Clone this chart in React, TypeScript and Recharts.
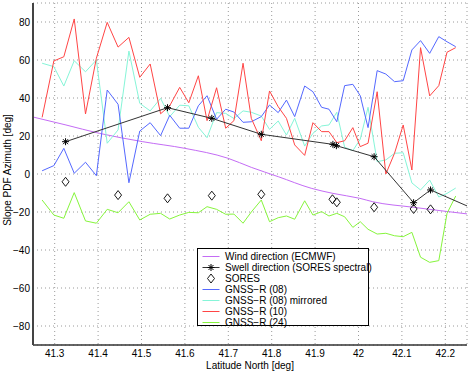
import React from "react";
import { ComposedChart, Line, Scatter, XAxis, YAxis, CartesianGrid } from "recharts";

// GNSS-R along-track latitudes (shared sampling)
const gnssLat = [
  41.271, 41.298, 41.321, 41.345, 41.371, 41.396, 41.421, 41.446, 41.471, 41.496,
  41.520, 41.544, 41.565, 41.588, 41.609, 41.631, 41.651, 41.673, 41.694, 41.713,
  41.734, 41.753, 41.776, 41.795, 41.815, 41.834, 41.853, 41.876, 41.895, 41.915,
  41.932, 41.950, 41.968, 41.987, 42.004, 42.022, 42.043, 42.063, 42.083, 42.103,
  42.123, 42.143, 42.164, 42.185, 42.204, 42.224,
];
const gnss08 = [
  1.7, 4.4, 13.5, 0.4, 6.2, -0.9, 44.2, 36.7, -4.6, 22.6,
  27.0, 20.2, 30.9, 24.1, 24.1, 35.9, 41.2, 28.8, 34.1, 32.6,
  27.2, 27.5, 30.2, 36.3, 32.3, 38.9, 30.2, 46.3, 43.3, 35.1,
  34.1, 27.5, 46.5, 47.2, 41.2, 24.4, 54.4, 52.6, 48.6, 49.1,
  65.3, 70.2, 63.5, 72.3, 69.6, 67.0,
];
const gnss08Mirrored = [
  58.3, 56.5, 46.3, 59.6, 53.8, 60.0, 16.2, 23.2, 64.7, 37.2,
  33.2, 39.8, 30.2, 36.2, 35.9, 24.6, 19.1, 32.3, 31.9, 29.2,
  33.2, 32.5, 30.5, 23.5, 27.9, 20.5, 29.3, 14.7, 21.4, 25.3,
  25.8, 32.5, 14.1, 12.3, 18.3, 35.1, 6.5, 7.4, 10.9, 11.2,
  -4.7, -8.4, -3.2, -12.1, -10.2, -7.4,
];
const gnss10 = [
  29.8, 59.5, 61.7, 81.6, 31.6, 60.9, 79.8, 66.8, 71.9, 50.9,
  57.9, 31.7, 35.9, 45.6, 37.5, 51.7, 28.1, 45.4, 24.1, 28.1,
  58.3, 29.3, 17.5, 43.7, 35.4, 29.3, 15.3, 9.8, 27.0, 22.3,
  22.3, 16.5, 17.5, 24.4, 14.4, 16.2, 43.3, 0, 10.9, 25.8,
  2.1, 66.5, 41.1, 46.5, 64.1, 66.5,
];
const gnss24 = [
  -13.7, -21.6, -23.3, -9.8, -24.7, -25.9, -18.6, -20.4, -14.6, -24.2,
  -21.2, -20.7, -23.7, -21.6, -20.2, -20.4, -17.2, -18.6, -21.2, -21.1,
  -25.9, -20.0, -13.7, -25.1, -23.0, -22.1, -23.8, -14.1, -21.6, -19.8,
  -22.1, -20.7, -22.5, -28.1, -25.1, -29.1, -31.6, -31.2, -32.5, -33.0,
  -30.7, -43.8, -46.5, -45.6, -20.7, -11.6,
];

// Wind direction (ECMWF)
const windLat = [41.25, 41.326, 41.403, 41.503, 41.6, 41.699, 41.753, 41.815, 41.891, 41.941, 42.003, 42.033, 42.126, 42.25];
const windVal = [30.0, 25.8, 21.4, 17.0, 13.5, 8.3, 3.5, -1.4, -7.5, -10.2, -12.8, -14.6, -17.5, -21.0];

// Swell direction (SORES spectral)
const swellLat = [41.325, 41.560, 41.662, 41.776, 41.941, 41.949, 42.036, 42.127, 42.166, 42.25];
const swellVal = [17.0, 34.9, 29.3, 20.9, 15.6, 14.9, 9.1, -15.1, -8.4, -16.8];

// SORES
const soresLat = [41.325, 41.446, 41.560, 41.662, 41.776, 41.940, 41.950, 42.036, 42.127, 42.166];
const soresVal = [-4.1, -11.1, -12.8, -11.4, -10.7, -13.3, -14.9, -17.5, -18.4, -18.6];

const xTicks = [41.3, 41.4, 41.5, 41.6, 41.7, 41.8, 41.9, 42, 42.1, 42.2];
const yTicks = [-80, -60, -40, -20, 0, 20, 40, 60, 80];

const zip = (xs: number[], ys: number[]) => xs.map((x, i) => ({ x, y: ys[i] }));

const C_WIND = "#c46cf5";
const C_SWELL = "#333333";
const C_B08 = "#5468ff";
const C_C08 = "#86f5d8";
const C_R10 = "#ff4545";
const C_G24 = "#86f53c";

const FONT = "'Liberation Sans', Arial, Helvetica, sans-serif";

const Asterisk = ({ cx, cy, r = 3.5 }: { cx: number; cy: number; r?: number }) => {
  const d = r * 0.707;
  return (
    <g stroke="#000" strokeWidth={1}>
      <line x1={cx - r} y1={cy} x2={cx + r} y2={cy} />
      <line x1={cx} y1={cy - r} x2={cx} y2={cy + r} />
      <line x1={cx - d} y1={cy - d} x2={cx + d} y2={cy + d} />
      <line x1={cx - d} y1={cy + d} x2={cx + d} y2={cy - d} />
    </g>
  );
};

const Diamond = ({ cx, cy }: { cx: number; cy: number }) => (
  <path
    d={`M${cx},${cy - 4.5} L${cx + 3.5},${cy} L${cx},${cy + 4.5} L${cx - 3.5},${cy} Z`}
    fill="none"
    stroke="#000"
    strokeWidth={0.9}
  />
);

const legendItems = [
  { label: "Wind direction (ECMWF)", kind: "line", color: C_WIND },
  { label: "Swell direction (SORES spectral)", kind: "star", color: C_SWELL },
  { label: "SORES", kind: "diamond", color: "#000" },
  { label: "GNSS\u2212R (08)", kind: "line", color: C_B08 },
  { label: "GNSS\u2212R (08) mirrored", kind: "line", color: C_C08 },
  { label: "GNSS\u2212R (10)", kind: "line", color: C_R10 },
  { label: "GNSS\u2212R (24)", kind: "line", color: C_G24 },
];

export default function App() {
  const swellLast = swellLat.length - 1;
  return (
    <div style={{ position: "absolute", left: 0, top: 0, width: 474, height: 371, background: "#fff" }}>
      <ComposedChart width={474} height={371} margin={{ top: 3, right: 7, left: 0, bottom: 0 }}>
        <CartesianGrid stroke="#9a9a9a" strokeDasharray="1 3" vertical horizontal />
        <XAxis
          dataKey="x"
          type="number"
          domain={[41.25, 42.25]}
          ticks={xTicks}
          allowDataOverflow
          height={26}
          tickSize={0}
          tickMargin={5}
          stroke="#333"
          strokeWidth={1.5}
          tick={{ fill: "#000", fontSize: 10, fontFamily: FONT }}
          tickFormatter={(v: number) => String(Math.round(v * 10) / 10)}
          label={{
            content: () => (
              <text x={250} y={369} textAnchor="middle" fontSize={10} fontFamily={FONT} fill="#000">
                Latitude North [deg]
              </text>
            ),
          }}
        />
        <YAxis
          type="number"
          domain={[-90, 90]}
          ticks={yTicks}
          allowDataOverflow
          width={33}
          tickSize={0}
          tickMargin={3}
          stroke="#444"
          strokeWidth={2}
          tick={{ fill: "#000", fontSize: 10, fontFamily: FONT }}
          tickFormatter={(v: number) => (v < 0 ? "\u2212" + Math.abs(v) : String(v))}
          label={{
            content: () => (
              <text x={11} y={170} transform="rotate(-90 11 170)" textAnchor="middle" fontSize={10} fontFamily={FONT} fill="#000">
                Slope PDF Azimuth [deg]
              </text>
            ),
          }}
        />
        <Line data={zip(windLat, windVal)} dataKey="y" type="monotone" stroke={C_WIND} strokeWidth={1} dot={false} isAnimationActive={false} />
        <Line data={zip(gnssLat, gnss08Mirrored)} dataKey="y" type="linear" stroke={C_C08} strokeWidth={1} dot={false} isAnimationActive={false} />
        <Line data={zip(gnssLat, gnss08)} dataKey="y" type="linear" stroke={C_B08} strokeWidth={1} dot={false} isAnimationActive={false} />
        <Line data={zip(gnssLat, gnss10)} dataKey="y" type="linear" stroke={C_R10} strokeWidth={1} dot={false} isAnimationActive={false} />
        <Line data={zip(gnssLat, gnss24)} dataKey="y" type="linear" stroke={C_G24} strokeWidth={1} dot={false} isAnimationActive={false} />
        <Line
          data={zip(swellLat, swellVal)}
          dataKey="y"
          type="linear"
          stroke={C_SWELL}
          strokeWidth={1}
          isAnimationActive={false}
          dot={(p: any) =>
            p.index === swellLast ? <g key={`s${p.index}`} /> : <g key={`s${p.index}`}><Asterisk cx={p.cx} cy={p.cy} /></g>
          }
        />
        <Scatter
          data={zip(soresLat, soresVal)}
          dataKey="y"
          isAnimationActive={false}
          shape={(p: any) => <Diamond cx={p.cx} cy={p.cy} />}
        />
      </ComposedChart>
      <div
        style={{
          position: "absolute",
          left: 197,
          top: 248,
          width: 172,
          height: 78,
          border: "1px solid #000",
          background: "#fff",
          fontFamily: FONT,
          fontSize: 10,
          color: "#000",
          paddingTop: 1.5,
          boxSizing: "border-box",
        }}
      >
        {legendItems.map((it) => (
          <div key={it.label} style={{ display: "flex", alignItems: "center", height: 11.1, lineHeight: "11.1px", whiteSpace: "nowrap" }}>
            <svg width={27} height={11} style={{ flex: "none" }}>
              {it.kind !== "diamond" && <line x1={4.5} y1={5.5} x2={21.5} y2={5.5} stroke={it.color} strokeWidth={1} />}
              {it.kind === "star" && <Asterisk cx={13} cy={5.5} />}
              {it.kind === "diamond" && <Diamond cx={13} cy={5.5} />}
            </svg>
            <span>{it.label}</span>
          </div>
        ))}
      </div>
    </div>
  );
}
